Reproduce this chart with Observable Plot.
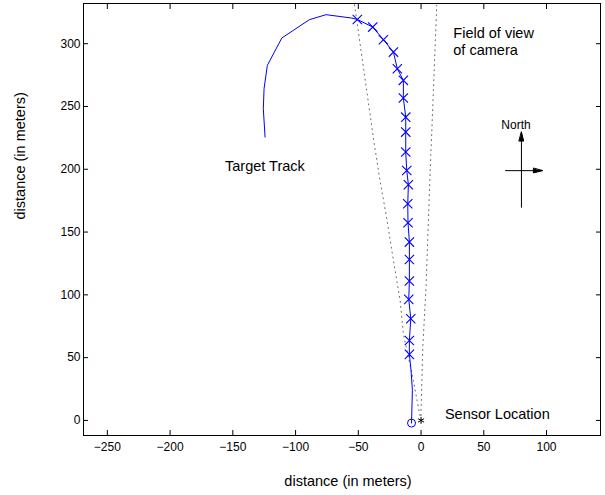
<!DOCTYPE html>
<html>
<head>
<meta charset="utf-8">
<script src="https://cdn.jsdelivr.net/npm/d3@7"></script>
<script src="https://cdn.jsdelivr.net/npm/@observablehq/plot@0.6"></script>
<style>
  html, body { margin: 0; padding: 0; background: white; }
</style>
</head>
<body>
<div id="chart"></div>
<script>
// ---- data ----
const xTicks = [-250, -200, -150, -100, -50, 0, 50, 100];
const xTickLabels = ["−250", "−200", "−150", "−100", "−50", "0", "50", "100"];
const yTicks = [0, 50, 100, 150, 200, 250, 300];
const yTickLabels = ["0", "50", "100", "150", "200", "250", "300"];
const xLabel = "distance (in meters)";
const yLabel = "distance (in meters)";

// track: start segment, measurement markers, tail
const startX = [-7.6, -6.9, -8.0];
const startY = [-2.1, 24, 40];
const markerX = [-9.3, -9.3, -8.2, -9.8, -9.3, -9.3, -9.3, -10.4, -10.6, -10.1, -11.4, -12.2, -12.2, -12.2, -14.1, -14.1, -18.9, -22.0, -30.0, -38.5, -50.8];
const markerY = [52.6, 63.7, 81, 96.4, 111, 128.2, 142, 157.4, 172.6, 187.7, 199, 213.7, 229.6, 241.5, 256.7, 270.8, 280, 293.3, 303.2, 313.2, 319.3];
const tailX = [-55.2, -75.7, -89.0, -111.0, -122.5, -125.1, -125.7, -124.3];
const tailY = [320.4, 323.1, 319.1, 304.5, 282.7, 264.2, 248.2, 225.6];

// field of view boundaries
const fovLeftX = [0, -2.2, -6.1, -14.1, -16.7, -18.9, -23.3, -27.3, -32.7, -37.5, -53.0];
const fovLeftY = [0, 10.6, 31.8, 69, 95.6, 108.8, 135.4, 160.6, 191, 221.6, 331];
const fovRightX = [0, 0, 1.4, 4.0, 7.7, 8.5, 9.0, 12.5];
const fovRightY = [0, 8, 58.4, 107, 211, 228.3, 241.5, 330.5];

// sensor and track start
const sensorX = [0];
const sensorY = [0];
const trackStartX = [-7.6];
const trackStartY = [-2.1];

// annotations
const noteText = ["Field of view", "of camera", "Target Track", "Sensor Location"];
const noteX = [25.7, 25.7, -156.2, 19];
const noteY = [308, 294.7, 202.3, 4.5];
const northText = ["North"];
const northX = [64];
const northY = [235];
// compass arrows
const arrowX1 = [80, 67];
const arrowY1 = [169.4, 198.9];
const arrowX2 = [80, 96.7];
const arrowY2 = [229.6, 198.9];
const arrowDir = [0, 90];

// ---- build tables ----
const track = [
  ...startX.map((x, i) => ({x, y: startY[i]})),
  ...markerX.map((x, i) => ({x, y: markerY[i]})),
  ...tailX.map((x, i) => ({x, y: tailY[i]}))
];
const markers = markerX.map((x, i) => ({x, y: markerY[i]}));
const fovLeft = fovLeftX.map((x, i) => ({x, y: fovLeftY[i]}));
const fovRight = fovRightX.map((x, i) => ({x, y: fovRightY[i]}));
const notes = noteText.map((t, i) => ({t, x: noteX[i], y: noteY[i]}));
const arrows = arrowX1.map((x1, i) => ({x1, y1: arrowY1[i], x2: arrowX2[i], y2: arrowY2[i], r: arrowDir[i]}));

const headShape = {
  draw(context, l) {
    const w = l * 0.25;
    context.moveTo(0, -l);
    context.lineTo(w, 0);
    context.lineTo(-w, 0);
    context.closePath();
  }
};

const font = "'Liberation Sans', Arial, Helvetica, sans-serif";

const chart = Plot.plot({
  width: 605,
  height: 495,
  marginLeft: 83,
  marginRight: 5,
  marginTop: 3,
  marginBottom: 60,
  x: {domain: [-269, 143]},
  y: {domain: [-12, 332]},
  style: {fontFamily: font, background: "white", color: "black"},
  marks: [
    Plot.line(fovLeft, {x: "x", y: "y", stroke: "#666", strokeWidth: 1, strokeDasharray: "1,4", clip: true}),
    Plot.line(fovRight, {x: "x", y: "y", stroke: "#666", strokeWidth: 1, strokeDasharray: "1,4", clip: true}),
    Plot.line(track, {x: "x", y: "y", stroke: "#0000ff", strokeWidth: 1, curve: "linear"}),
    Plot.dot(markers, {x: "x", y: "y", symbol: "times", r: 4.3, stroke: "#0000ff", strokeWidth: 1.1}),
    Plot.dot(trackStartX.map((x, i) => ({x, y: trackStartY[i]})), {x: "x", y: "y", symbol: "circle", r: 4, stroke: "#0000ff", fill: "none", strokeWidth: 1}),
    Plot.dot(sensorX.map((x, i) => ({x, y: sensorY[i]})), {x: "x", y: "y", symbol: "asterisk", r: 3.3, stroke: "black", strokeWidth: 1}),
    Plot.text(notes, {x: "x", y: "y", text: "t", textAnchor: "start", fontSize: 14.5, fill: "black"}),
    Plot.text(northText.map((t, i) => ({t, x: northX[i], y: northY[i]})), {x: "x", y: "y", text: "t", textAnchor: "start", fontSize: 12, fill: "black"}),
    Plot.link(arrows, {x1: "x1", y1: "y1", x2: "x2", y2: "y2", stroke: "black", strokeWidth: 1}),
    Plot.vector(arrows, {x: "x2", y: "y2", rotate: "r", length: 9, anchor: "end", shape: headShape, stroke: "black", fill: "black", strokeWidth: 1}),
    Plot.frame({stroke: "black", strokeWidth: 1}),
    Plot.axisX(xTicks, {anchor: "bottom", tickSize: -5, tickPadding: 12, fontSize: 12, label: null,
      tickFormat: d => xTickLabels[xTicks.indexOf(d)]}),
    Plot.axisX(xTicks, {anchor: "top", tickSize: -5, label: null, tickFormat: () => ""}),
    Plot.axisY(yTicks, {anchor: "left", tickSize: -5, tickPadding: 8, fontSize: 12, label: null,
      tickFormat: d => yTickLabels[yTicks.indexOf(d)]}),
    Plot.axisY(yTicks, {anchor: "right", tickSize: -5, label: null, tickFormat: () => ""}),
    Plot.text([xLabel], {frameAnchor: "bottom", dy: 50, dx: 6, text: d => d, fontSize: 14.5, fill: "black"}),
    Plot.text([yLabel], {frameAnchor: "left", dx: -63, rotate: -90, text: d => d, fontSize: 14.5, fill: "black"})
  ]
});

document.getElementById("chart").appendChild(chart);
</script>
</body>
</html>
